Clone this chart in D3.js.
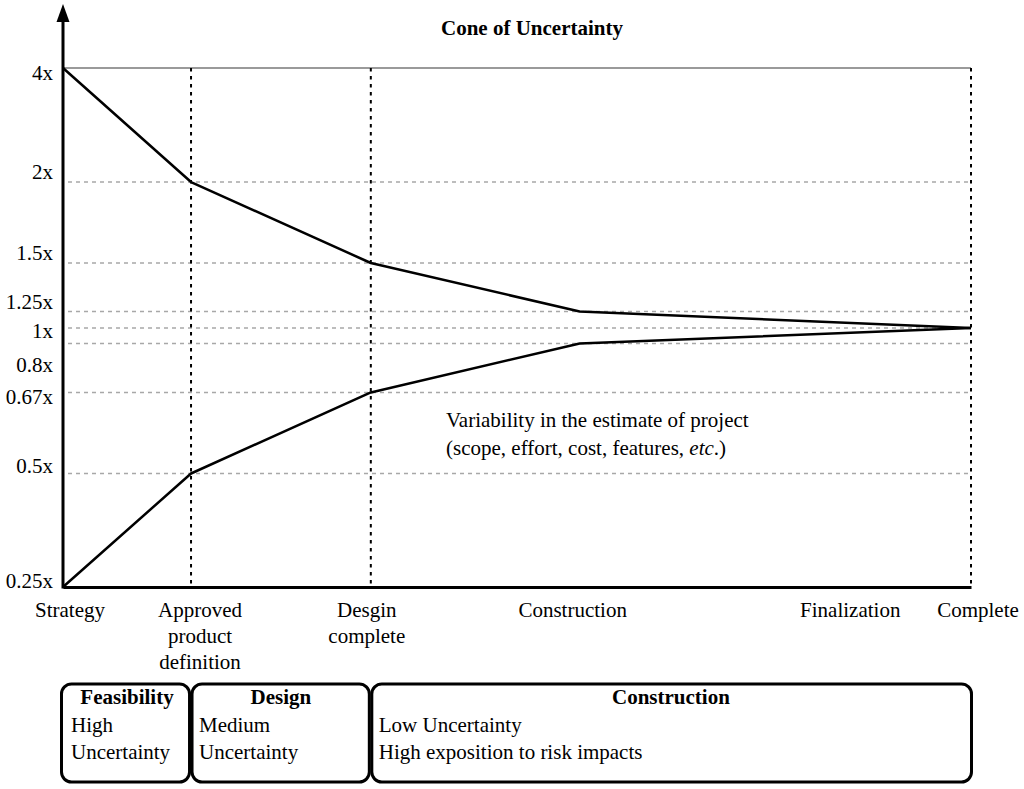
<!DOCTYPE html>
<html>
<head>
<meta charset="utf-8">
<script src="https://cdn.jsdelivr.net/npm/d3@7/dist/d3.min.js"></script>
<style>
  html, body { margin: 0; padding: 0; background: #fff; }
  svg { display: block; }
  text { font-family: "Liberation Serif", "Times New Roman", serif; fill: #000; }
</style>
</head>
<body>
<svg id="chart" width="1024" height="789"></svg>
<script>
// ---------------- DATA ----------------
const title = "Cone of Uncertainty";
// milestones along the project and their relative progress (0..1)
const milestones = ["Strategy", "Approved product definition", "Desgin complete", "Construction", "Finalization", "Complete"];
const milestoneLabels = [["Strategy"], ["Approved", "product", "definition"], ["Desgin", "complete"], ["Construction"], ["Finalization"], ["Complete"]];
const milestoneProgress = [0, 0.141, 0.339, 0.569, 0.867, 1];
// milestones that carry a dotted vertical marker
const markedMilestones = ["Approved product definition", "Desgin complete", "Complete"];
// cone boundaries (estimate multiplier) at the milestones where the cone bends
const coneMilestones = ["Strategy", "Approved product definition", "Desgin complete", "Construction", "Complete"];
const upperBound = [4, 2, 1.5, 1.25, 1];
const lowerBound = [0.25, 0.5, 0.67, 0.8, 1];
// y tick values and labels
const yTicks = [0.25, 0.5, 0.67, 0.8, 1, 1.25, 1.5, 2, 4];
const yTickLabels = ["0.25x", "0.5x", "0.67x", "0.8x", "1x", "1.25x", "1.5x", "2x", "4x"];
// phases shown under the chart
const phaseTitles = ["Feasibility", "Design", "Construction"];
const phaseLines = [["High", "Uncertainty"], ["Medium", "Uncertainty"], ["Low Uncertainty", "High exposition to risk impacts"]];
const phaseStart = ["Strategy", "Approved product definition", "Desgin complete"];
const phaseEnd = ["Approved product definition", "Desgin complete", "Complete"];
const annotation = ["Variability in the estimate of project", "(scope, effort, cost, features, "];

// ---------------- LAYOUT ----------------
const W = 1024, H = 789;
const plot = { left: 63, right: 971, top: 68, bottom: 587 };
// schematic (non-metric) vertical placement of the tick values, as fraction of plot height
const yTickFrac = [0, 0.2187, 0.3748, 0.4692, 0.4990, 0.5308, 0.6243, 0.7803, 1];
// vertical nudges of the tick labels relative to their lines (labels avoid each other)
const yLabelNudge = [1, 0, 12, 29, 10, -3, -3, -3, 12];
// horizontal nudges of the milestone labels
const xLabelNudge = [7, 9, -4, -7, 0, 7];
const fontSize = 21;

const svg = d3.select("#chart");

const x = d3.scaleLinear().domain([0, 1]).range([plot.left, plot.right]);
const xOf = name => x(milestoneProgress[milestones.indexOf(name)]);
const y = d3.scaleLinear()
  .domain(yTicks)
  .range(yTickFrac.map(f => plot.bottom - f * (plot.bottom - plot.top)));

// Title
svg.append("text")
  .attr("x", 532).attr("y", 35)
  .attr("text-anchor", "middle")
  .attr("font-size", fontSize).attr("font-weight", "bold")
  .text(title);

// Horizontal grid lines
const grid = svg.append("g");
grid.selectAll("line")
  .data(yTicks.filter(v => v !== 0.25))
  .join("line")
  .attr("x1", d => d === 4 ? plot.left : plot.left + 5)
  .attr("x2", plot.right)
  .attr("y1", d => y(d)).attr("y2", d => y(d))
  .attr("stroke", d => d === 4 ? "#9a9a9a" : "#a8a8a8")
  .attr("stroke-width", d => d === 4 ? 2 : 1.6)
  .attr("stroke-dasharray", d => d === 4 ? null : "4,4");

// Vertical dotted milestone markers
svg.append("g").selectAll("line")
  .data(markedMilestones)
  .join("line")
  .attr("x1", d => xOf(d)).attr("x2", d => xOf(d))
  .attr("y1", plot.top).attr("y2", plot.bottom)
  .attr("stroke", "#000")
  .attr("stroke-width", 2)
  .attr("stroke-dasharray", "3.5,4.5");

// Cone lines
const line = d3.line().x(d => xOf(d[0])).y(d => y(d[1]));
[upperBound, lowerBound].forEach(series => {
  svg.append("path")
    .datum(coneMilestones.map((m, i) => [m, series[i]]))
    .attr("d", line)
    .attr("fill", "none")
    .attr("stroke", "#000")
    .attr("stroke-width", 2.5)
    .attr("stroke-linejoin", "round");
});

// X axis
const xAxis = d3.axisBottom(x).tickValues([]).tickSizeOuter(0);
svg.append("g")
  .attr("transform", `translate(0,${plot.bottom})`)
  .call(xAxis)
  .call(g => g.select(".domain").attr("stroke", "#000").attr("stroke-width", 3));

// Y axis with arrow
const yAxis = d3.axisLeft(y).tickValues([]).tickSizeOuter(0);
svg.append("g")
  .attr("transform", `translate(${plot.left},0)`)
  .call(yAxis)
  .call(g => g.select(".domain").remove());
svg.append("line")
  .attr("x1", plot.left).attr("x2", plot.left)
  .attr("y1", plot.bottom + 1.5).attr("y2", 20)
  .attr("stroke", "#000").attr("stroke-width", 3);
svg.append("path")
  .attr("d", d3.line()([[plot.left - 6.5, 22], [plot.left, 4], [plot.left + 6.5, 22]]) + "Z")
  .attr("fill", "#000");

// Y tick labels
svg.append("g").selectAll("text")
  .data(yTicks)
  .join("text")
  .attr("x", 53)
  .attr("y", (d, i) => y(d) + yLabelNudge[i])
  .attr("text-anchor", "end")
  .attr("font-size", fontSize)
  .text((d, i) => yTickLabels[i]);

// X milestone labels
const xl = svg.append("g").selectAll("text")
  .data(milestones)
  .join("text")
  .attr("x", (d, i) => xOf(d) + xLabelNudge[i])
  .attr("y", 617)
  .attr("text-anchor", "middle")
  .attr("font-size", fontSize);
xl.selectAll("tspan")
  .data((d, i) => milestoneLabels[i])
  .join("tspan")
  .attr("x", function () { return d3.select(this.parentNode).attr("x"); })
  .attr("dy", (d, i) => i === 0 ? 0 : 26)
  .text(d => d);

// Annotation
const ann = svg.append("text").attr("x", 446).attr("y", 427).attr("font-size", fontSize);
ann.append("tspan").attr("x", 446).text(annotation[0]);
const ann2 = svg.append("text").attr("x", 446).attr("y", 455).attr("font-size", fontSize);
ann2.append("tspan").text(annotation[1]);
ann2.append("tspan").attr("font-style", "italic").text("etc");
ann2.append("tspan").text(".)");

// Phase boxes
const boxTop = 684, boxBottom = 782;
const phases = svg.append("g").selectAll("g")
  .data(phaseTitles)
  .join("g");
phases.append("rect")
  .attr("x", (d, i) => xOf(phaseStart[i]) - (i === 0 ? 1.5 : -1))
  .attr("y", boxTop)
  .attr("width", (d, i) => xOf(phaseEnd[i]) - xOf(phaseStart[i]) - (i === 2 ? -0.5 : 1.5) + (i === 0 ? 1.5 : -1))
  .attr("height", boxBottom - boxTop)
  .attr("rx", 10).attr("ry", 10)
  .attr("fill", "none")
  .attr("stroke", "#000")
  .attr("stroke-width", 3);
phases.append("text")
  .attr("x", (d, i) => (xOf(phaseStart[i]) + xOf(phaseEnd[i])) / 2)
  .attr("y", 704)
  .attr("text-anchor", "middle")
  .attr("font-size", fontSize)
  .attr("font-weight", "bold")
  .text(d => d);
phases.each(function (d, i) {
  d3.select(this).selectAll("text.body")
    .data(phaseLines[i])
    .join("text")
    .attr("class", "body")
    .attr("x", xOf(phaseStart[i]) + 8)
    .attr("y", (t, j) => 732 + j * 27)
    .attr("font-size", fontSize)
    .text(t => t);
});
</script>
</body>
</html>
